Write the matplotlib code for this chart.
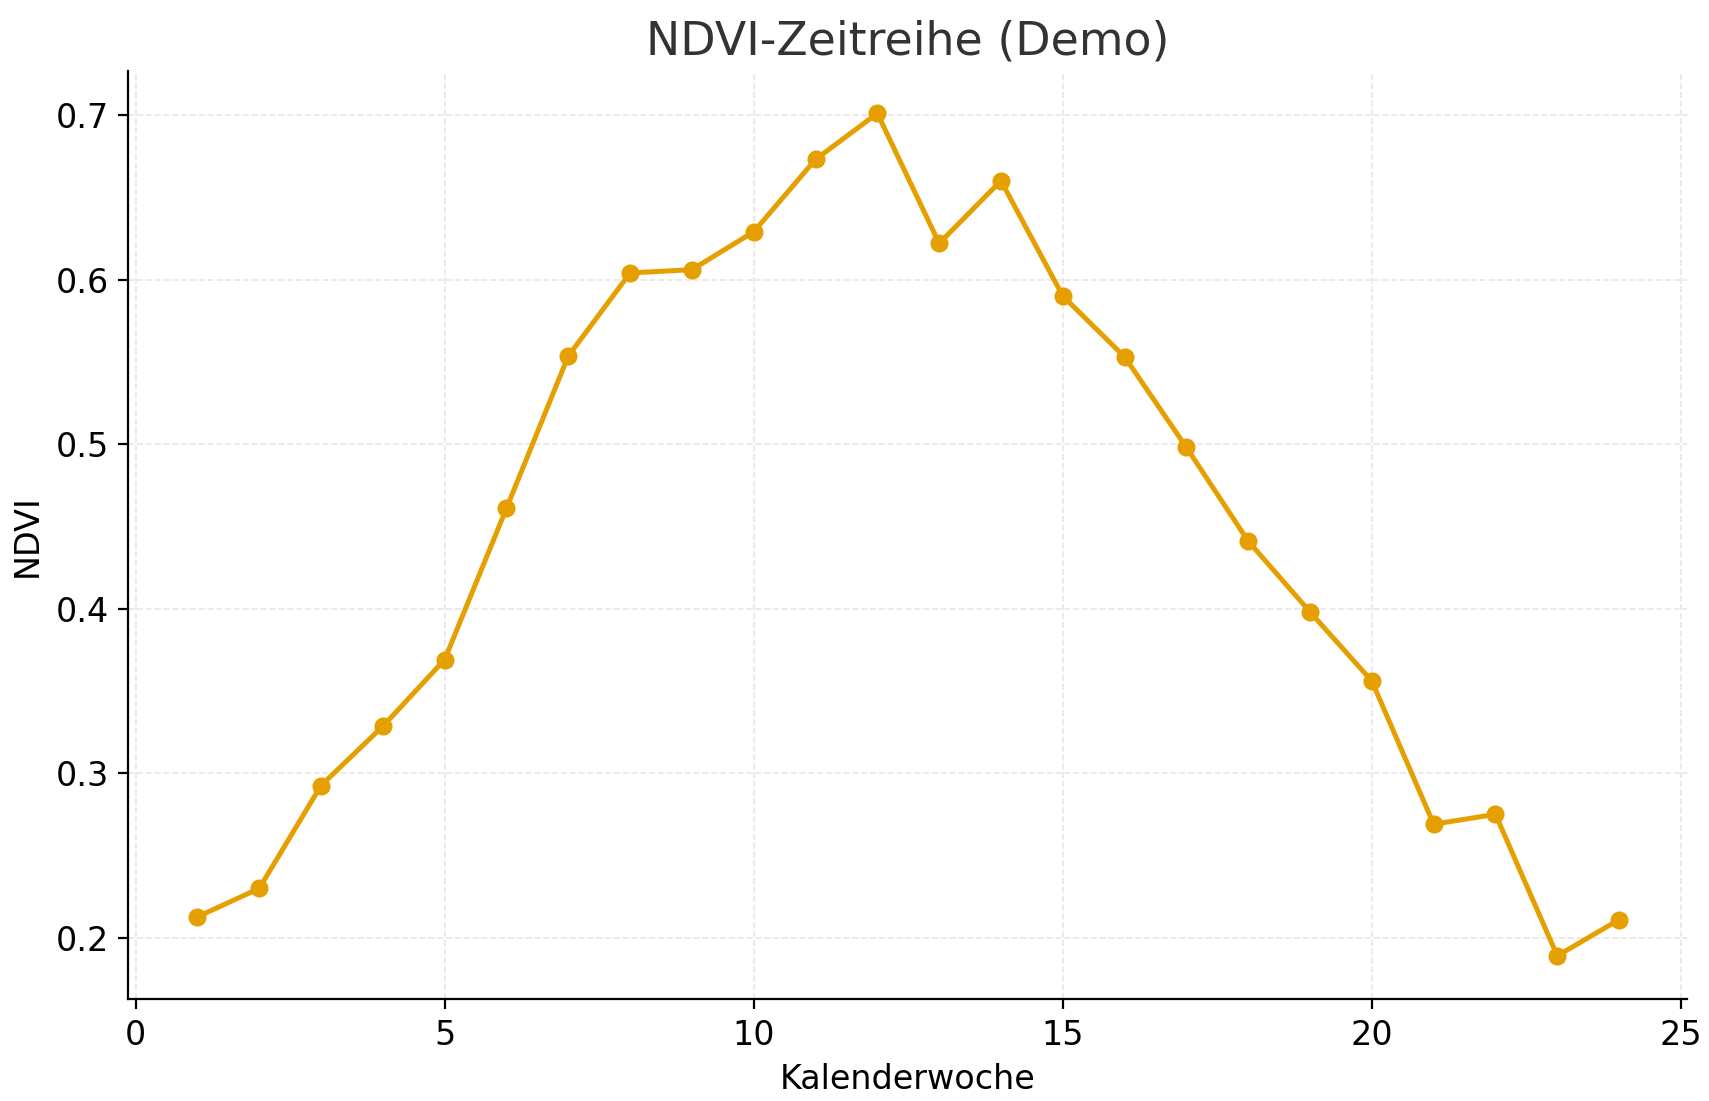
import matplotlib
matplotlib.use("Agg")
import matplotlib.pyplot as plt

weeks = list(range(1, 25))
ndvi = [0.2127, 0.230, 0.2925, 0.3285, 0.369, 0.461, 0.5535, 0.604, 0.606, 0.629,
        0.673, 0.701, 0.622, 0.660, 0.590, 0.553, 0.498, 0.441, 0.398, 0.356,
        0.269, 0.275, 0.189, 0.211]

W, H = 1560, 1005
fig = plt.figure(figsize=(8.545, 5.505), dpi=200)
ax = fig.add_axes([117/W, 1-912/H, (1540-117)/W, (912-65)/H])
ax.plot(weeks, ndvi, color="#E69F00", marker="o", markersize=5.5, linewidth=1.8)
ax.set_xlim(-0.12, 25.1)
ax.set_ylim(0.1627, 0.7266)
ax.set_xticks([0, 5, 10, 15, 20, 25])
ax.set_yticks([0.2, 0.3, 0.4, 0.5, 0.6, 0.7])
ax.grid(True, linestyle="--", color="#e6e6e6", linewidth=0.6)
for s in ["top", "right"]:
    ax.spines[s].set_visible(False)
ax.tick_params(labelsize=12)
ax.set_xlabel("Kalenderwoche", fontsize=12)
ax.set_ylabel("NDVI", fontsize=12)
ax.set_title("NDVI-Zeitreihe (Demo)", fontsize=16.5, color="#333333")
fig.savefig("out.png", dpi=200)
